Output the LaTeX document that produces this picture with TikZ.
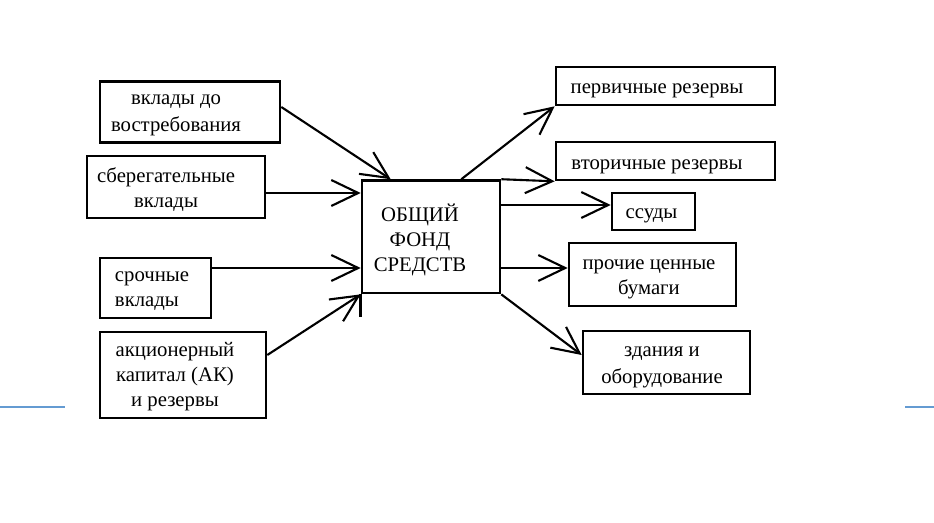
\documentclass[tikz,border=0pt]{standalone}
\usepackage{fontspec}
\setmainfont{Liberation Serif}
\usepackage{xcolor}
\usepackage{tikz}
\usetikzlibrary{arrows.meta,positioning}

\definecolor{scanblue}{RGB}{100,155,210}

\begin{document}
\begin{tikzpicture}[
  x=0.02cm, y=-0.02cm,
  itembox/.style={draw, line width=1.5pt, inner sep=0pt},
  itemtext/.style={inner sep=0pt,
    execute at begin node={\rule{0pt}{8.3pt}},
    execute at end node={\rule[-2.8pt]{0pt}{2.8pt}}},
  flow/.style={line width=1.2pt, -{Straight Barb[length=0.54cm, width=0.52cm, line width=1.2pt]}}
]
\useasboundingbox (0,0) rectangle (934,523);

% boxes: name/text/centre/size/text centre/line skip/alignment
\foreach \n/\txt/\x/\y/\w/\h/\tx/\ty/\ls/\al in {
  dep/{вклады до\\востребования}/190/112/180/61/176/115.6/15.9/center,
  sav/{сберегательные\\вклады}/176/187/178/62/166/189.7/14.2/center,
  term/{срочные\\вклады}/155.5/288/111/60/152/291.4/14.5/left,
  cap/{акционерный\\капитал (АК)\\и резервы}/183/375/166/86/175/377.2/14.2/center,
  fund/{ОБЩИЙ\\ФОНД\\СРЕДСТВ}/431/236.8/138/112.5/420/240.4/14.1/center,
  prim/{первичные резервы}/665.5/86/219/38/657/88.2/14/center,
  sec/{вторичные резервы}/665.5/161/219/38/657/164.2/14/center,
  loan/{ссуды}/653.5/211.5/83/37/651.5/213.7/14/center,
  sec2/{прочие ценные\\бумаги}/652.5/274.5/167/63/649/279.2/14.2/center,
  bld/{здания и\\оборудование}/666.5/362.5/167/63/662/367.4/15.7/center
}{
  \node[itembox, minimum width=\w*0.02cm, minimum height=\h*0.02cm] (\n) at (\x,\y) {};
  \node[itemtext, align/.expanded=\al, font=\fontsize{11.8pt}{\ls pt}\selectfont] (\n-t) at (\tx,\ty) {\txt};
}

% into the pool
\draw[flow] ([yshift=0.1cm]dep.east) -- ([xshift=0.6cm]fund.north west);
\draw[flow] ([yshift=-0.12cm]sav.east) -- ([yshift=-0.12cm]sav.east -| fund.west);
\draw[flow] ([yshift=0.4cm]term.east) -- ([yshift=0.4cm]term.east -| fund.west);
\draw[flow] ([yshift=0.4cm]cap.east) -- (fund.south west);
\draw[line width=1.5pt] (fund.south west) -- ++(0,23);

% out of the pool
\draw[flow] ([xshift=-0.8cm]fund.north east) -- (prim.south west);
\draw[flow] (fund.north east) -- (sec.south west);
\draw[flow] ([yshift=0.13cm]loan.west -| fund.east) -- ([yshift=0.13cm]loan.west);
\draw[flow] ([yshift=0.13cm]sec2.west -| fund.east) -- ([yshift=0.13cm]sec2.west);
\draw[flow] (fund.south east) -- ([yshift=0.15cm]bld.west);

% scan rules
\draw[scanblue, line width=1pt] (0,407) -- (65,407);
\draw[scanblue, line width=1pt] (905,407) -- (934,407);
\end{tikzpicture}
\end{document}
